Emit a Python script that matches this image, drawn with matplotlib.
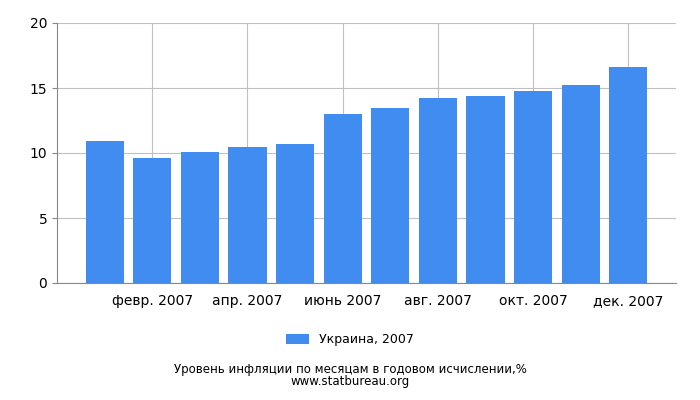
import matplotlib
matplotlib.use('agg')
import matplotlib.pyplot as plt

months = ['янв. 2007', 'февр. 2007', 'март 2007', 'апр. 2007', 'май 2007', 'июнь 2007',
          'июль 2007', 'авг. 2007', 'сент. 2007', 'окт. 2007', 'нояб. 2007', 'дек. 2007']
values = [10.9, 9.6, 10.1, 10.5, 10.7, 13.0, 13.5, 14.2, 14.4, 14.8, 15.2, 16.6]
yticks = [0, 5, 10, 15, 20]

fig = plt.figure(figsize=(7, 4), dpi=100)
ax = fig.add_axes([57/700, 117/400, 619/700, 260/400])
x = list(range(1, len(values) + 1))
ax.bar(x, values, width=0.8, color='#418cf0', zorder=2, label='Украина, 2007')
ax.set_xlim(0, 13)
ax.set_ylim(0, 20)
ax.set_yticks(yticks)
ax.set_xticks(x[1::2])
ax.set_xticklabels(months[1::2])
ax.grid(True, color='#c0c0c0', linewidth=0.8, zorder=0)
for s in ['top', 'right']:
    ax.spines[s].set_visible(False)
ax.spines['left'].set_color('#888888')
ax.spines['bottom'].set_color('#888888')
ax.tick_params(axis='x', length=0, labelsize=10, pad=8)
ax.tick_params(axis='y', labelsize=10, color='#888888')
fig.legend(loc='center', bbox_to_anchor=(0.5, 1 - 340/400), frameon=False, fontsize=9,
           handlelength=1.8, handleheight=0.8)
fig.text(0.5, 1 - 370/400, 'Уровень инфляции по месяцам в годовом исчислении,%', ha='center', va='center', fontsize=8.5)
fig.text(0.5, 1 - 382/400, 'www.statbureau.org', ha='center', va='center', fontsize=8.5)
fig.savefig('out.png')
